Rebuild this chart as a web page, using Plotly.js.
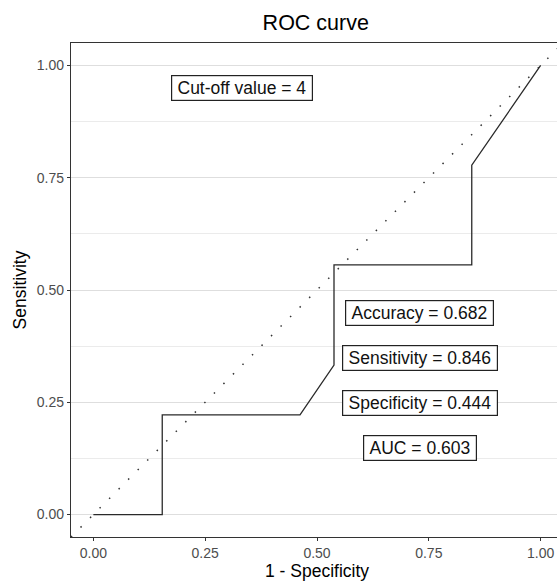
<!DOCTYPE html>
<html>
<head>
<meta charset="utf-8">
<script src="https://cdn.plot.ly/plotly-3.0.1.min.js"></script>
<style>
html,body{margin:0;padding:0;overflow:hidden;background:#fff;}
#chart{width:570px;height:583px;}
</style>
</head>
<body>
<div id="chart"></div>
<script>
// ROC curve points (1 - Specificity, Sensitivity)
const fpr = [0, 0.154, 0.154, 0.462, 0.538, 0.538, 0.846, 0.846, 1.0];
const tpr = [0, 0, 0.222, 0.222, 0.333, 0.556, 0.556, 0.778, 1.0];
const tickVals = [0, 0.25, 0.5, 0.75, 1.0];
const tickText = ["0.00", "0.25", "0.50", "0.75", "1.00"];
const axisRange = [-0.05, 1.05];
// Annotation labels and their positions in data units
const labelText = ["Cut-off value = 4", "Accuracy = 0.682", "Sensitivity = 0.846", "Specificity = 0.444", "AUC = 0.603"];
const labelX = [0.332, 0.73, 0.73, 0.73, 0.73];
const labelY = [0.949, 0.449, 0.349, 0.248, 0.149];

const FONT = "Liberation Sans, Arial, sans-serif";

const traces = [
  {
    x: axisRange, y: axisRange, mode: "lines", type: "scatter",
    line: {color: "#333333", width: 1.5, dash: "1.5px,12px"},
    hoverinfo: "skip", showlegend: false
  },
  {
    x: fpr, y: tpr, mode: "lines", type: "scatter",
    line: {color: "#2a2a2a", width: 1.3},
    showlegend: false
  }
];

const annotations = labelText.map((t, i) => ({
  x: labelX[i], y: labelY[i], xref: "x", yref: "y",
  text: "\u2009" + t + "\u2009", showarrow: false,
  font: {family: FONT, size: 17.5, color: "#111"},
  bgcolor: "#ffffff", bordercolor: "#222", borderwidth: 1.2, borderpad: 1.8
}));

const layout = {
  width: 570, height: 583,
  margin: {l: 71, r: 7, t: 43, b: 46},
  paper_bgcolor: "#fff", plot_bgcolor: "#fff",
  font: {family: FONT},
  title: {text: "ROC curve", font: {family: FONT, size: 21.5, color: "#000"}, x: 0.554, xanchor: "center", y: 0.962, yanchor: "middle"},
  xaxis: {
    range: axisRange, tickvals: tickVals, ticktext: tickText,
    showgrid: false, zeroline: false,
    showline: true, linecolor: "#333", linewidth: 1.2, mirror: true,
    ticks: "outside", ticklen: 3, tickcolor: "#333", tickwidth: 1,
    tickfont: {family: FONT, size: 14, color: "#4d4d4d"},
    title: {text: "1 - Specificity", font: {family: FONT, size: 17.5, color: "#000"}, standoff: 2}
  },
  yaxis: {
    range: axisRange, tickvals: tickVals, ticktext: tickText,
    showgrid: true, gridcolor: "#dedede", gridwidth: 1, zeroline: false,
    minor: {dtick: 0.125, tick0: 0, showgrid: true, gridcolor: "#ebebeb", gridwidth: 1, ticks: ""},
    showline: true, linecolor: "#333", linewidth: 1.2, mirror: true,
    ticks: "outside", ticklen: 3, tickcolor: "#333", tickwidth: 1,
    tickfont: {family: FONT, size: 14, color: "#4d4d4d"},
    title: {text: "Sensitivity", font: {family: FONT, size: 17.5, color: "#000"}, standoff: 5}
  },
  annotations: annotations
};

Plotly.newPlot("chart", traces, layout, {displayModeBar: false, staticPlot: true});
</script>
</body>
</html>
